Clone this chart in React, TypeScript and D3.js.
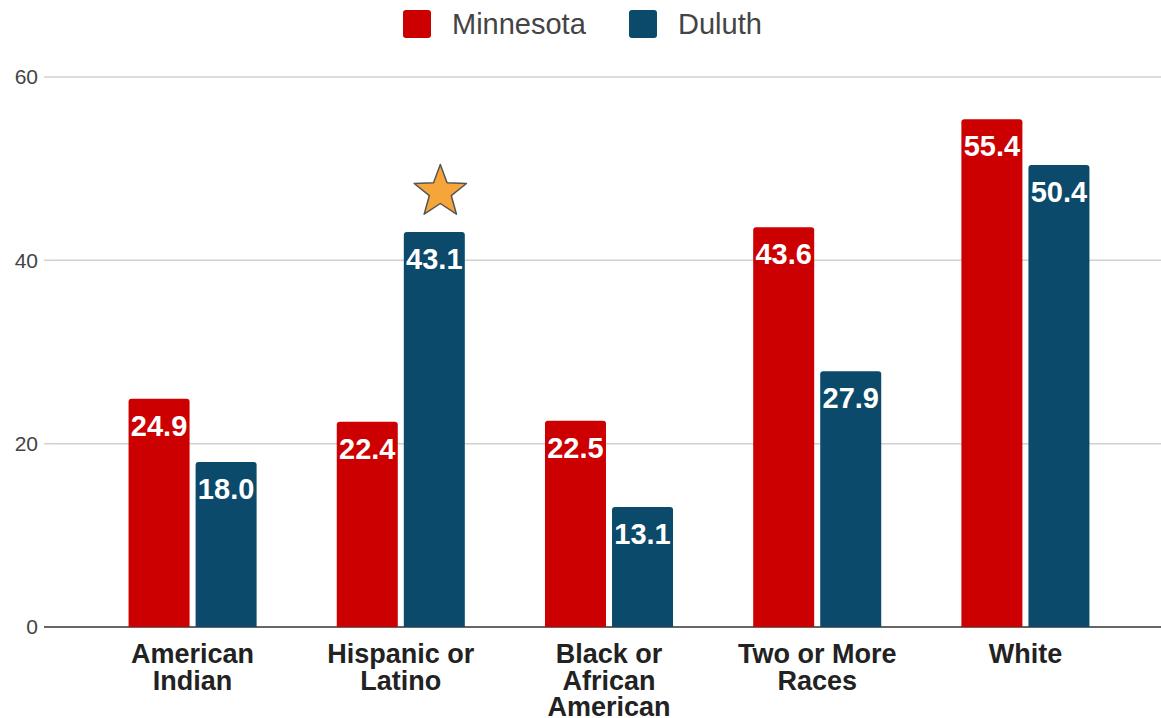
import React from "react";
import * as d3 from "d3";

const categories = [
  ["American", "Indian"],
  ["Hispanic or", "Latino"],
  ["Black or", "African", "American"],
  ["Two or More", "Races"],
  ["White"],
];
const seriesNames = ["Minnesota", "Duluth"];
const minnesota = [24.9, 22.4, 22.5, 43.6, 55.4];
const duluth = [18.0, 43.1, 13.1, 27.9, 50.4];
const yTicks = [0, 20, 40, 60];
const colors = ["#cc0000", "#0b4a6a"];
const starCategory = 1;

const W = 1161;
const H = 718;
const FONT = "'Liberation Sans', Arial, sans-serif";

function roundedTopRect(x: number, y: number, w: number, h: number, r: number) {
  const rr = Math.min(r, h, w / 2);
  return `M${x},${y + h}V${y + rr}Q${x},${y} ${x + rr},${y}H${x + w - rr}Q${x + w},${y} ${x + w},${y + rr}V${y + h}Z`;
}

function starPath(cx: number, cy: number, R: number, r: number) {
  const pts: string[] = [];
  for (let i = 0; i < 10; i++) {
    const a = -Math.PI / 2 + (i * Math.PI) / 5;
    const rad = i % 2 === 0 ? R : r;
    pts.push(`${cx + rad * Math.cos(a)},${cy + rad * Math.sin(a)}`);
  }
  return "M" + pts.join("L") + "Z";
}

export default function App() {
  const y = d3.scaleLinear().domain([0, 60]).range([627, 77]);
  const x0 = d3
    .scaleBand<number>()
    .domain(d3.range(categories.length))
    .range([89, 1129])
    .paddingInner(0.385)
    .paddingOuter(0.19);
  const x1 = d3
    .scaleBand<number>()
    .domain([0, 1])
    .range([0, x0.bandwidth()])
    .paddingInner(0.09);
  const series = [minnesota, duluth];

  return (
    <svg
      width={W}
      height={H}
      style={{ position: "absolute", left: 0, top: 0, display: "block", background: "#fff" }}
    >
      {/* gridlines */}
      {yTicks.map((t) => (
        <g key={t}>
          <line
            x1={52}
            x2={W}
            y1={y(t)}
            y2={y(t)}
            stroke={t === 0 ? "#666" : "#d0d0d0"}
            strokeWidth={t === 0 ? 2 : 1.5}
          />
          <line x1={44} x2={52} y1={y(t)} y2={y(t)} stroke={t === 0 ? "#666" : "#d0d0d0"} strokeWidth={t === 0 ? 2 : 1.5} />
          <text
            x={38}
            y={y(t)}
            dy="0.35em"
            textAnchor="end"
            fontFamily={FONT}
            fontSize={21}
            fill="#444"
          >
            {t}
          </text>
        </g>
      ))}

      {/* bars */}
      {categories.map((_, i) => (
        <g key={i} transform={`translate(${x0(i)},0)`}>
          {series.map((vals, s) => {
            const bx = x1(s)!;
            const bw = x1.bandwidth();
            const top = y(vals[i]);
            return (
              <g key={s}>
                <path d={roundedTopRect(bx, top, bw, y(0) - top, 3)} fill={colors[s]} />
                <text
                  x={bx + bw / 2}
                  y={top + 37}
                  textAnchor="middle"
                  fontFamily={FONT}
                  fontWeight="bold"
                  fontSize={29}
                  fill="#fff"
                  stroke={colors[s]}
                  strokeWidth={1}
                  paintOrder="stroke"
                >
                  {vals[i].toFixed(1)}
                </text>
              </g>
            );
          })}
        </g>
      ))}

      {/* star */}
      <path
        d={starPath(
          x0(starCategory)! + x1(1)! + x1.bandwidth() / 2 + 6,
          192,
          27.5,
          11.5
        )}
        fill="#f6a53a"
        stroke="#555"
        strokeWidth={1.5}
        strokeLinejoin="round"
      />

      {/* x labels */}
      {categories.map((lines, i) => (
        <text
          key={i}
          x={x0(i)! + x0.bandwidth() / 2}
          y={663}
          textAnchor="middle"
          fontFamily={FONT}
          fontWeight="bold"
          fontSize={27}
          fill="#222"
        >
          {lines.map((l, k) => (
            <tspan key={k} x={x0(i)! + x0.bandwidth() / 2} dy={k === 0 ? 0 : 26.5}>
              {l}
            </tspan>
          ))}
        </text>
      ))}

      {/* legend */}
      {seriesNames.map((name, s) => {
        const lx = [403, 629][s];
        return (
          <g key={name}>
            <rect x={lx} y={10} width={28} height={28} rx={3} fill={colors[s]} />
            <text
              x={lx + 49}
              y={24}
              dy="0.35em"
              fontFamily={FONT}
              fontSize={29}
              fill="#444"
            >
              {name}
            </text>
          </g>
        );
      })}
    </svg>
  );
}
